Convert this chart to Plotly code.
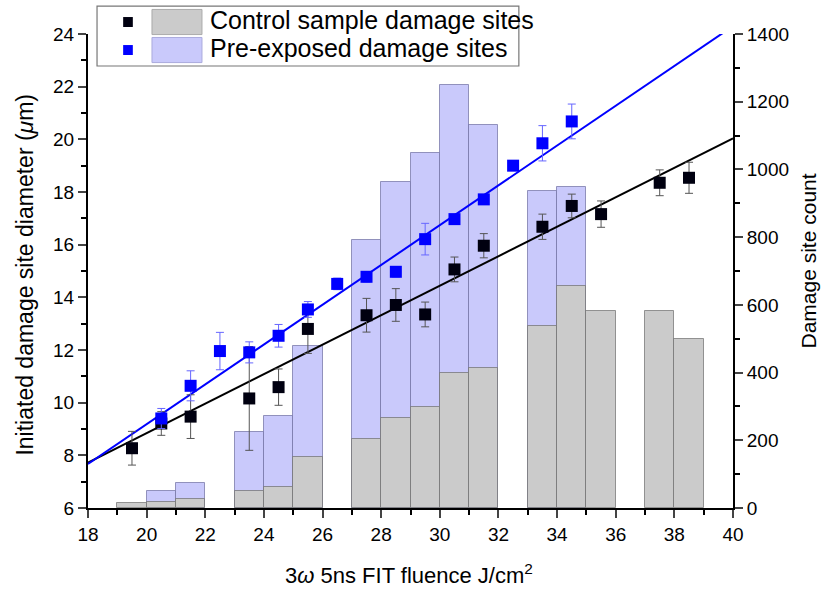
import numpy as np
import plotly.graph_objects as go

# ---- data ----
bin_centers_control = [19.5, 20.5, 21.5, 23.5, 24.5, 25.5, 27.5, 28.5, 29.5, 30.5, 31.5, 33.5, 34.5, 35.5, 37.5, 38.5]
counts_control = [15, 18, 26, 50, 61, 150, 204, 265, 297, 398, 413, 537, 656, 582, 582, 498]

bin_centers_pre = [20.5, 21.5, 23.5, 24.5, 25.5, 27.5, 28.5, 29.5, 30.5, 31.5, 33.5, 34.5]
counts_pre = [51, 73, 225, 272, 478, 791, 962, 1048, 1250, 1130, 937, 949]

x_control = [19.5, 20.5, 21.5, 23.5, 24.5, 25.5, 27.5, 28.5, 29.5, 30.5, 31.5, 33.5, 34.5, 35.5, 37.5, 38.5]
d_control = [8.27, 9.21, 9.47, 10.16, 10.59, 12.8, 13.32, 13.71, 13.35, 15.06, 15.96, 16.68, 17.47, 17.16, 18.35, 18.54]
err_control = [0.64, 0.45, 0.83, 1.97, 0.69, 0.93, 0.64, 0.62, 0.47, 0.47, 0.46, 0.48, 0.45, 0.5, 0.49, 0.59]

x_pre = [20.5, 21.5, 22.5, 23.5, 24.5, 25.5, 26.5, 27.5, 28.5, 29.5, 30.5, 31.5, 32.5, 33.5, 34.5]
d_pre = [9.4, 10.64, 11.96, 11.91, 12.54, 13.54, 14.51, 14.78, 14.97, 16.21, 16.97, 17.72, 19.0, 19.85, 20.68]
err_pre = [0.38, 0.57, 0.71, 0.4, 0.43, 0.3, 0.22, 0.2, 0.2, 0.6, 0.15, 0.15, 0.12, 0.67, 0.66]

# linear fits: intercept, slope
fit_control = (-2.36, 0.56)
fit_pre = (-5.93, 0.7557)
fit_x_range = [18, 40]

legend_labels = ["Control sample damage sites", "Pre-exposed damage sites"]
x_title = "3<i>ω</i> 5ns FIT fluence J/cm<sup>2</sup>"
y_left_title = "Initiated damage site diameter (<i>μ</i>m)"
y_right_title = "Damage site count"

FONT = "Liberation Sans, Arial, sans-serif"
GRAY_FILL = "#cbcbcb"
BLUE_FILL = "#c9c9fb"

fig = go.Figure()

# histogram bars (primary y -> right side count axis)
fig.add_trace(go.Bar(x=bin_centers_pre, y=counts_pre, width=1.0,
                     marker=dict(color=BLUE_FILL, line=dict(color="rgba(110,110,160,0.7)", width=1)),
                     yaxis="y", showlegend=False))
fig.add_trace(go.Bar(x=bin_centers_control, y=counts_control, width=1.0,
                     marker=dict(color=GRAY_FILL, line=dict(color="rgba(110,110,110,0.7)", width=1)),
                     yaxis="y", showlegend=False))

# fit lines
fx = np.linspace(fit_x_range[0], fit_x_range[1], 50)
fig.add_trace(go.Scatter(x=fx, y=fit_control[0] + fit_control[1] * fx, mode="lines",
                         line=dict(color="black", width=2), yaxis="y2", showlegend=False))
fig.add_trace(go.Scatter(x=fx, y=fit_pre[0] + fit_pre[1] * fx, mode="lines",
                         line=dict(color="#0000ff", width=2), yaxis="y2", showlegend=False))

# points
fig.add_trace(go.Scatter(x=x_control, y=d_control, mode="markers",
                         marker=dict(symbol="square", size=12, color="#000010"),
                         error_y=dict(type="data", array=err_control, color="#555555", thickness=1, width=4),
                         yaxis="y2", showlegend=False))
fig.add_trace(go.Scatter(x=x_pre, y=d_pre, mode="markers",
                         marker=dict(symbol="square", size=12, color="#0000ff"),
                         error_y=dict(type="data", array=err_pre, color="#6666ff", thickness=1, width=4),
                         yaxis="y2", showlegend=False))

tickfont = dict(family=FONT, size=19, color="black")

fig.update_layout(
    width=822, height=589,
    margin=dict(l=88, r=89, t=34, b=81),
    paper_bgcolor="white", plot_bgcolor="white",
    barmode="overlay", bargap=0,
    font=dict(family=FONT, color="black"),
    xaxis=dict(range=[18, 40], dtick=2, tick0=18, ticks="outside", ticklen=8, tickwidth=1.5,
               showline=True, linecolor="black", linewidth=2, showgrid=False, zeroline=False,
               tickfont=tickfont,
               minor=dict(ticks="outside", ticklen=5, dtick=1, tickwidth=1.5, tickcolor="black")),
    yaxis=dict(range=[0, 1400], dtick=200, side="right", ticks="outside", ticklen=8, tickwidth=1.5,
               showline=True, linecolor="black", linewidth=2, showgrid=False, zeroline=False,
               tickfont=tickfont,
               minor=dict(ticks="outside", ticklen=5, dtick=100, tickwidth=1.5, tickcolor="black")),
    yaxis2=dict(range=[6, 24], dtick=2, side="left", overlaying="y", ticks="outside", ticklen=8, tickwidth=1.5,
                showline=True, linecolor="black", linewidth=2, showgrid=False, zeroline=False,
                tickfont=tickfont,
                minor=dict(ticks="outside", ticklen=5, dtick=1, tickwidth=1.5, tickcolor="black")),
)

annotations = [
    dict(xref="paper", yref="paper", x=0.498, y=-0.139, xanchor="center", yanchor="middle",
         text=x_title, showarrow=False, font=dict(family=FONT, size=22, color="black")),
    dict(xref="paper", yref="paper", x=-0.098, y=0.492, xanchor="center", yanchor="middle", textangle=-90,
         text=y_left_title, showarrow=False, font=dict(family=FONT, size=23, color="black")),
    dict(xref="paper", yref="paper", x=1.117, y=0.521, xanchor="center", yanchor="middle", textangle=-90,
         text=y_right_title, showarrow=False, font=dict(family=FONT, size=21, color="black")),
]

# custom legend (paper coordinates)
shapes = [dict(type="rect", xref="paper", yref="paper", x0=0.014, x1=0.668, y0=0.9325, y1=1.059,
               line=dict(color="#777777", width=1.2), fillcolor="white", layer="above")]
rows = [(1.0253, "#000010", GRAY_FILL, "#aaaaaa"), (0.9662, "#0000ff", BLUE_FILL, "#aaaadd")]
for (yc, mcol, pcol, pline), label in zip(rows, legend_labels):
    shapes.append(dict(type="rect", xref="paper", yref="paper", x0=0.0545, x1=0.0695,
                       y0=yc - 0.0105, y1=yc + 0.0105, line=dict(width=0), fillcolor=mcol, layer="above"))
    shapes.append(dict(type="rect", xref="paper", yref="paper", x0=0.0992, x1=0.1767,
                       y0=yc - 0.0265, y1=yc + 0.0265, line=dict(color=pline, width=1), fillcolor=pcol, layer="above"))
    annotations.append(dict(xref="paper", yref="paper", x=0.186, y=yc + 0.004, xanchor="left", yanchor="middle",
                            text=label, showarrow=False, font=dict(family=FONT, size=25, color="black")))
fig.update_layout(shapes=shapes, annotations=annotations)

fig.write_html("out.html")
